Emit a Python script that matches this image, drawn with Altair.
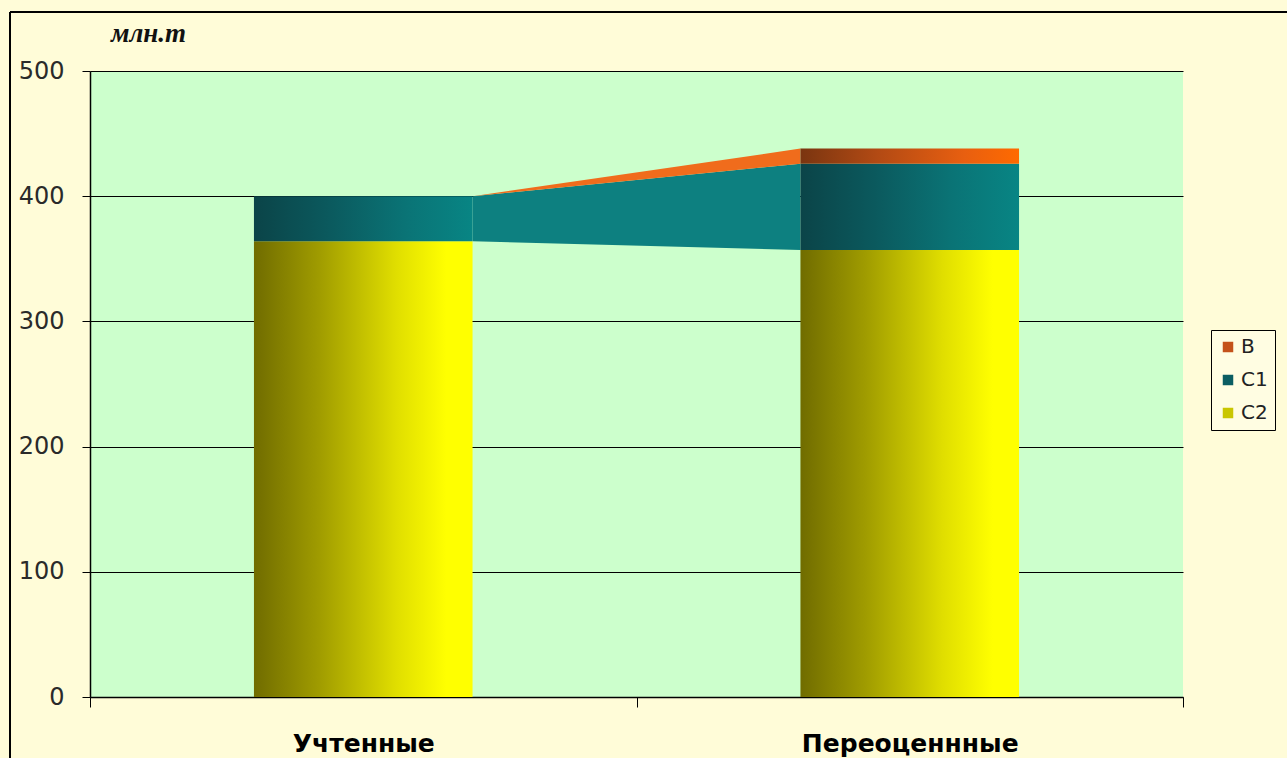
import altair as alt
import pandas as pd

# Reserves by category, million tonnes
categories = ["Учтенные", "Переоценнные"]
series_order = ["C2", "C1", "B"]          # stacking order, bottom to top
values = {
    "C2": [364, 357],
    "C1": [36, 69],
    "B": [0, 12],
}
legend_order = ["B", "C1", "C2"]
y_ticks = [0, 100, 200, 300, 400, 500]

BAR_HALF = 0.2  # half of bar width in category units (one category = 1.0)

# per-series horizontal gradients (dark on the left, bright on the right)
gradients = {
    "C2": [("#706c00", 0.0), ("#a09c00", 0.3), ("#e0de00", 0.65), ("#ffff00", 0.88), ("#ffff00", 1.0)],
    "C1": [("#0b4448", 0.0), ("#0b5a5e", 0.35), ("#0a7476", 0.7), ("#088584", 1.0)],
    "B": [("#7a3510", 0.0), ("#b24a14", 0.35), ("#e85f10", 0.75), ("#ff6a00", 1.0)],
}
link_colors = {"C1": "#0d8080", "B": "#f06c1c"}
legend_colors = {"B": "#c4521a", "C1": "#0b5e62", "C2": "#c9c600"}

# stacked segment rows
rows = []
for i, cat in enumerate(categories):
    base = 0
    for s in series_order:
        v = values[s][i]
        rows.append({
            "category": cat,
            "series": s,
            "x0": i + 0.5 - BAR_HALF,
            "x1": i + 0.5 + BAR_HALF,
            "y0": base,
            "y1": base + v,
        })
        base += v
bars = pd.DataFrame(rows)

x_scale = alt.Scale(domain=[0, len(categories)], nice=False, zero=False)
y_scale = alt.Scale(domain=[0, 500], nice=False)

label_expr = " : ".join(
    f"datum.value == {i + 0.5} ? '{c}'" for i, c in enumerate(categories)
) + " : ''"

x_axis = alt.Axis(
    values=[v / 2 for v in range(0, 2 * len(categories) + 1)],
    labelExpr=label_expr,
    tickOpacity={"condition": {"test": "datum.value % 1 != 0", "value": 0}, "value": 1},
    tickSize=10,
    tickColor="black",
    domainColor="black",
    domainWidth=1.5,
    labelFont="DejaVu Sans",
    labelFontWeight="bold",
    labelFontSize=25,
    labelColor="black",
    labelPadding=24,
    labelLimit=0,
    labelFlush=False,
    labelOverlap=False,
    grid=False,
    title=None,
)

y_axis = alt.Axis(
    values=y_ticks,
    tickSize=8,
    tickColor="black",
    domainColor="black",
    domainWidth=1.5,
    labelFont="DejaVu Sans",
    labelFontSize=24,
    labelColor="#2a2a2a",
    labelPadding=18,
    grid=True,
    gridColor="black",
    gridOpacity=1,
    gridWidth=1,
    title="млн.т",
    titleAngle=0,
    titleFont="Liberation Serif",
    titleFontStyle="italic",
    titleFontWeight="bold",
    titleFontSize=27,
    titleColor="#111111",
    titleAlign="center",
    titleBaseline="middle",
    titleX=58,
    titleY=-38,
)

layers = []

# shaded connectors between the two bars for the upper series
for s in ["C1", "B"]:
    seg = bars[bars["series"] == s].sort_values("x0")
    link = pd.DataFrame({
        "x": [seg["x1"].iloc[0], seg["x0"].iloc[1]],
        "top": [seg["y1"].iloc[0], seg["y1"].iloc[1]],
        "bottom": [seg["y0"].iloc[0], seg["y0"].iloc[1]],
    })
    layers.append(
        alt.Chart(link).mark_area(color=link_colors[s], opacity=1, interpolate="linear").encode(
            x=alt.X("x:Q", scale=x_scale, axis=x_axis),
            y=alt.Y("top:Q", scale=y_scale, axis=y_axis),
            y2="bottom:Q",
        )
    )

# gradient-filled bar segments
for s in series_order:
    grad = alt.LinearGradient(
        gradient="linear",
        stops=[alt.GradientStop(color=c, offset=o) for c, o in gradients[s]],
        x1=0, x2=1, y1=0, y2=0,
    )
    layers.append(
        alt.Chart(bars[(bars["series"] == s) & (bars["y1"] > bars["y0"])])
        .mark_rect(fill=grad, stroke=None)
        .encode(
            x=alt.X("x0:Q", scale=x_scale, axis=x_axis),
            x2="x1:Q",
            y=alt.Y("y1:Q", scale=y_scale, axis=y_axis),
            y2="y0:Q",
        )
    )

# legend carrier (invisible marks)
layers.append(
    alt.Chart(bars).mark_square(opacity=0).encode(
        x=alt.X("x0:Q", scale=x_scale, axis=x_axis),
        y=alt.Y("y0:Q", scale=y_scale, axis=y_axis),
        color=alt.Color(
            "series:N",
            scale=alt.Scale(domain=legend_order, range=[legend_colors[s] for s in legend_order]),
            legend=alt.Legend(
                title=None,
                orient="none",
                legendX=1121,
                legendY=259,
                symbolType="square",
                symbolSize=110,
                symbolOpacity=1,
                symbolStrokeWidth=0,
                labelFont="DejaVu Sans",
                labelFontSize=20,
                labelColor="#222222",
                labelOffset=3,
                rowPadding=13,
                padding=7,
                strokeColor="black",
                fillColor="#fffde2",
            ),
        ),
    )
)

# outer frame: left and top edges
layers.append(
    alt.Chart(pd.DataFrame({"a": [0]})).mark_rule(color="black", strokeWidth=2).encode(
        x=alt.value(-80), y=alt.value(-59), y2=alt.value(700)
    )
)
layers.append(
    alt.Chart(pd.DataFrame({"a": [0]})).mark_rule(color="black", strokeWidth=2).encode(
        x=alt.value(-80), x2=alt.value(1210), y=alt.value(-59)
    )
)

chart = (
    alt.layer(*layers)
    .properties(
        width=1093,
        height=626,
        padding={"left": 90, "top": 71, "right": 104, "bottom": 61},
        autosize=alt.AutoSizeParams(type="none"),
        background="#fffcd8",
    )
    .configure_view(fill="#ccffcc", stroke=None)
)

chart.save("out.html", embed_options={"renderer": "svg", "actions": False})
